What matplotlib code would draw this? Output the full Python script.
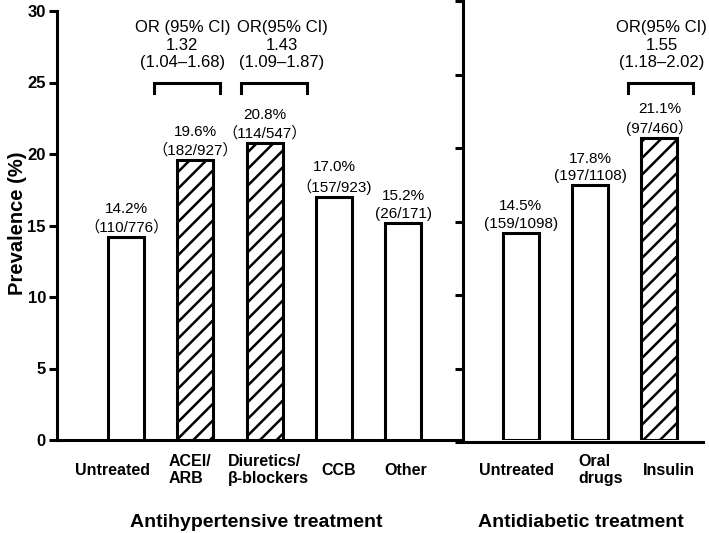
import matplotlib
matplotlib.use('Agg')
import matplotlib.pyplot as plt

plt.rcParams['font.family'] = ['Liberation Sans', 'Noto Sans CJK SC']
plt.rcParams['hatch.linewidth'] = 1.8

# data
CATEGORIES = ['Untreated', 'ACEI/\nARB', 'Diuretics/\nβ-blockers', 'CCB', 'Other',
              'Untreated', 'Oral\ndrugs', 'Insulin']
GROUPS = ['Antihypertensive treatment', 'Antidiabetic treatment']
PREVALENCE = [14.2, 19.6, 20.8, 17.0, 15.2, 14.5, 17.8, 21.1]
COUNTS = ['（110/776）', '（182/927）', '（114/547）', '（157/923)', '(26/171)',
          '(159/1098)', '(197/1108)', '(97/460）']
HATCHED = [False, True, True, False, False, False, False, True]
OR_LABELS = ['OR (95% CI)\n1.32\n(1.04–1.68)',
             'OR(95% CI)\n1.43\n(1.09–1.87)',
             'OR(95% CI)\n1.55\n(1.18–2.02)']

# layout
x_pos = [0, 1, 2, 3, 4, 5.7, 6.7, 7.7]
label_x = [-0.2, 0.92, 2.05, 3.07, 4.03, 5.63, 6.85, 7.84]
group_x = [1.88, 6.57]
brackets = [(0.40, 1.36), (1.66, 2.61), (7.24, 8.18)]
or_x = [0.81, 2.25, 7.73]
divider = 4.86
LW = 2.2

W, H = 709, 533
fig = plt.figure(figsize=(W / 100, H / 100), dpi=100)
ax = fig.add_axes([57 / W, 1 - 440 / H, 646 / W, 429 / H])

for x, h, hatched in zip(x_pos, PREVALENCE, HATCHED):
    ax.bar(x, h, width=0.52, facecolor='white', edgecolor='black',
           linewidth=LW, hatch='//' if hatched else None, zorder=3)

for x, h, pct, cnt in zip(x_pos, PREVALENCE, PREVALENCE, COUNTS):
    ax.annotate(f'{pct:.1f}%\n{cnt}', xy=(x, h), xytext=(0, 1.5),
                textcoords='offset points', ha='center', va='bottom',
                fontsize=11, linespacing=1.35)

for (x0, x1), xt, txt in zip(brackets, or_x, OR_LABELS):
    ax.plot([x0, x0, x1, x1], [24.3, 25, 25, 24.3], color='black',
            lw=LW, solid_joinstyle='miter', clip_on=False)
    ax.text(xt, 25.85, txt, ha='center', va='bottom', fontsize=12,
            linespacing=1.22)

ax.set_xlim(-1.0, 8.33)
ax.set_ylim(0, 30)
ax.set_yticks(range(0, 31, 5))
ax.tick_params(axis='y', length=6, width=LW, labelsize=12, pad=2)
ax.tick_params(axis='x', length=0, labelbottom=False)
for lab in ax.get_yticklabels():
    lab.set_fontweight('bold')
ax.spines[['top', 'right']].set_visible(False)
ax.spines['left'].set_linewidth(LW)
ax.spines['bottom'].set_linewidth(LW)
ax.spines['bottom'].set_bounds(-1.0, divider)
ax.set_ylabel('Prevalence (%)', fontsize=14.5, fontweight='bold')
ax.yaxis.set_label_coords(-0.047, 0.505)

tr = ax.get_xaxis_transform()
for x, lab in zip(label_x, CATEGORIES):
    ax.text(x, -0.07, lab, transform=tr, ha='center', va='center',
            multialignment='left', fontsize=11.5, fontweight='bold',
            linespacing=1.15)
for x, g in zip(group_x, GROUPS):
    ax.text(x, -0.193, g, transform=tr, ha='center', va='center',
            fontsize=14, fontweight='bold')

# separator axis between the two treatment groups
x_div = 57 + (divider + 1.0) / 9.33 * 646
ax2 = fig.add_axes([x_div / W, 1 - 442 / H, (703 - x_div) / W, 441 / H])
ax2.patch.set_visible(False)
ax2.set_ylim(0, 30)
ax2.set_yticks(range(0, 31, 5))
ax2.set_xticks([])
ax2.tick_params(axis='y', length=6, width=LW, labelleft=False)
ax2.spines[['top', 'right']].set_visible(False)
ax2.spines['left'].set_linewidth(LW)
ax2.spines['bottom'].set_linewidth(LW)

fig.savefig('out.png', dpi=100)
